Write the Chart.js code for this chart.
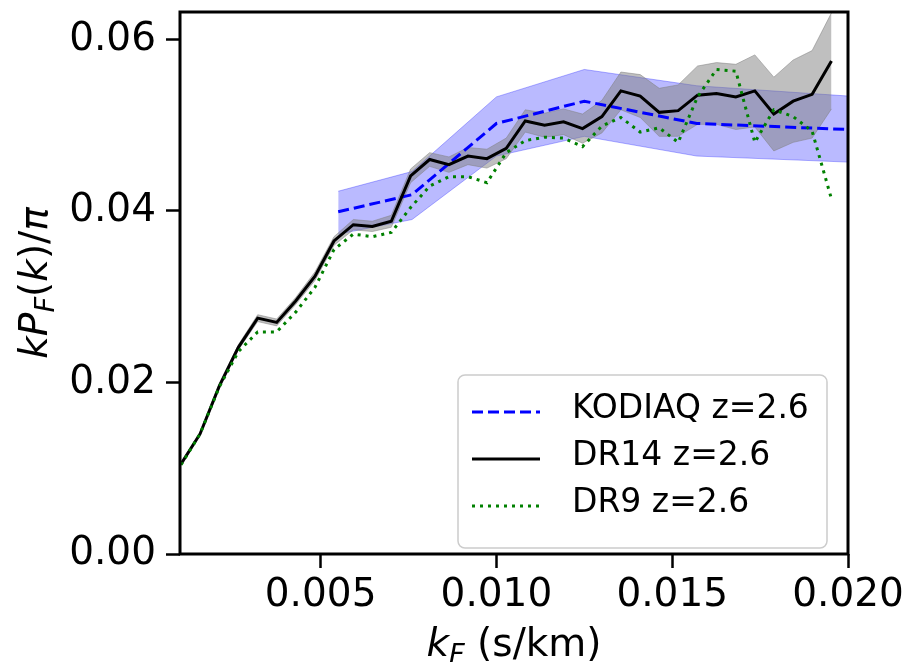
<!DOCTYPE html>
<html>
<head>
<meta charset="utf-8">
<script src="https://cdn.jsdelivr.net/npm/chart.js@4.4.1/dist/chart.umd.min.js"></script>
<style>
  html, body { margin: 0; padding: 0; background: #fff; }
  #wrap { width: 910px; height: 662px; }
</style>
</head>
<body>
<div id="wrap"><canvas id="chart" width="910" height="662"></canvas></div>
<script>
// Data (k in s/km, values are kP_F(k)/pi)
const kGrid = [0.00103, 0.00157, 0.00212, 0.00266, 0.00321, 0.00375, 0.00429, 0.00484, 0.00538, 0.00593,
               0.00647, 0.00701, 0.00756, 0.00810, 0.00865, 0.00919, 0.00973, 0.01028, 0.01082, 0.01137,
               0.01191, 0.01245, 0.01300, 0.01354, 0.01409, 0.01463, 0.01517, 0.01572, 0.01626, 0.01681,
               0.01735, 0.01789, 0.01844, 0.01898, 0.01953];

const dr14 = [0.0105, 0.0140, 0.0196, 0.0241, 0.0275, 0.0270, 0.0295, 0.0324, 0.0365, 0.0384,
              0.0382, 0.0388, 0.0441, 0.0460, 0.0454, 0.0464, 0.0461, 0.0473, 0.0505, 0.0500,
              0.0504, 0.0496, 0.0510, 0.0540, 0.0534, 0.0515, 0.0517, 0.0535, 0.0537, 0.0533,
              0.0540, 0.0513, 0.0528, 0.0536, 0.0575];

const dr14Err = [0.0002, 0.0002, 0.0003, 0.0003, 0.0004, 0.0004, 0.0004, 0.0005, 0.0005, 0.0006,
                 0.0006, 0.0007, 0.0008, 0.0008, 0.0009, 0.0010, 0.0011, 0.0012, 0.0013, 0.0014,
                 0.0015, 0.0017, 0.0019, 0.0022, 0.0025, 0.0028, 0.0030, 0.0034, 0.0036, 0.0038,
                 0.0042, 0.0043, 0.0048, 0.0051, 0.0056];

const dr9 = [0.0104, 0.0140, 0.0195, 0.0236, 0.0259, 0.0259, 0.0282, 0.0311, 0.0355, 0.0373,
             0.0370, 0.0375, 0.0404, 0.0429, 0.0440, 0.0440, 0.0433, 0.0468, 0.0482, 0.0486,
             0.0485, 0.0475, 0.0499, 0.0509, 0.0492, 0.0497, 0.0480, 0.0533, 0.0565, 0.0563,
             0.0480, 0.0518, 0.0510, 0.0493, 0.0414];

const kodiaqK  = [0.0055, 0.0076, 0.0100, 0.0125, 0.0157, 0.0200];
const kodiaq   = [0.0399, 0.0419, 0.0502, 0.0528, 0.0502, 0.0495];
const kodiaqLo = [0.0373, 0.0390, 0.0464, 0.0487, 0.0464, 0.0457];
const kodiaqHi = [0.0423, 0.0446, 0.0533, 0.0565, 0.0546, 0.0534];

const xTicks = [0.005, 0.010, 0.015, 0.020];
const xTickLabels = ["0.005", "0.010", "0.015", "0.020"];
const yTicks = [0.00, 0.02, 0.04, 0.06];
const yTickLabels = ["0.00", "0.02", "0.04", "0.06"];

const legendLabels = ["KODIAQ z=2.6", "DR14 z=2.6", "DR9 z=2.6"];

// Style
const FONT = "'DejaVu Sans', 'Liberation Sans', sans-serif";
const BLUE = "#0000ff";
const GREEN = "#008000";
const BLUE_DASH = [11, 5];
const GREEN_DOT = [3, 5];

const pts = (xs, ys) => xs.map((x, i) => ({x: x, y: ys[i]}));

// draws a run of text pieces (italic / subscript) centred on x
const drawRich = (ctx, pieces, cx, baseline, size) => {
    const fontOf = p => `${p.it ? "italic " : ""}${p.sub ? size * 0.7 : size}px ${FONT}`;
    let total = 0;
    pieces.forEach(p => { ctx.font = fontOf(p); total += ctx.measureText(p.t).width; });
    let x = cx - total / 2;
    ctx.textAlign = "left";
    ctx.textBaseline = "alphabetic";
    pieces.forEach(p => {
        ctx.font = fontOf(p);
        ctx.fillText(p.t, x, baseline + (p.sub ? size * 0.18 : 0));
        x += ctx.measureText(p.t).width;
    });
};

const decorPlugin = {
    id: "decor",
    afterDraw(chart) {
        const ctx = chart.ctx;
        const a = chart.chartArea;
        ctx.save();

        // frame
        ctx.strokeStyle = "#000";
        ctx.lineWidth = 3;
        ctx.strokeRect(a.left, a.top, a.right - a.left, a.bottom - a.top);

        ctx.fillStyle = "#000";
        // x title
        drawRich(ctx, [
            {t: "k", it: true}, {t: "F", it: true, sub: true}, {t: " (s/km)"}
        ], (a.left + a.right) / 2, a.bottom + 102, 39);

        // y title
        ctx.save();
        ctx.translate(47, (a.top + a.bottom) / 2);
        ctx.rotate(-Math.PI / 2);
        drawRich(ctx, [
            {t: "k", it: true}, {t: "P", it: true}, {t: "F", it: true, sub: true},
            {t: "("}, {t: "k", it: true}, {t: ")"}, {t: "/"}, {t: "π", it: true}
        ], 0, 0, 39);
        ctx.restore();

        // legend
        const bx = a.right - 21, by = a.bottom - 6;
        const bw = 369, bh = 173;
        const left = bx - bw, top = by - bh;
        ctx.beginPath();
        ctx.roundRect(left, top, bw, bh, 7);
        ctx.fillStyle = "rgba(255,255,255,0.8)";
        ctx.fill();
        ctx.strokeStyle = "#cccccc";
        ctx.lineWidth = 1.5;
        ctx.stroke();

        const handles = [
            {color: BLUE, dash: BLUE_DASH},
            {color: "#000", dash: []},
            {color: GREEN, dash: GREEN_DOT}
        ];
        ctx.font = `33px ${FONT}`;
        ctx.textAlign = "left";
        ctx.textBaseline = "alphabetic";
        handles.forEach((h, i) => {
            const ly = top + 37 + i * 47;
            ctx.beginPath();
            ctx.setLineDash(h.dash);
            ctx.strokeStyle = h.color;
            ctx.lineWidth = 3;
            ctx.moveTo(left + 14, ly);
            ctx.lineTo(left + 82, ly);
            ctx.stroke();
            ctx.setLineDash([]);
            ctx.fillStyle = "#000";
            ctx.fillText(legendLabels[i], left + 114, ly + 6);
        });

        ctx.restore();
    }
};

new Chart(document.querySelector("#chart"), {
    type: "line",
    data: {
        datasets: [
            {
                label: "KODIAQ low",
                data: pts(kodiaqK, kodiaqLo),
                borderColor: "rgba(0,0,255,0.3)",
                borderWidth: 1,
                pointRadius: 0,
                fill: false,
                order: 6
            },
            {
                label: "KODIAQ high",
                data: pts(kodiaqK, kodiaqHi),
                borderColor: "rgba(0,0,255,0.3)",
                borderWidth: 1,
                backgroundColor: "rgba(0,0,255,0.27)",
                pointRadius: 0,
                fill: "-1",
                order: 6
            },
            {
                label: "DR14 low",
                data: pts(kGrid, dr14.map((v, i) => v - dr14Err[i])),
                borderColor: "rgba(128,128,128,0.5)",
                borderWidth: 1,
                pointRadius: 0,
                fill: false,
                order: 5
            },
            {
                label: "DR14 high",
                data: pts(kGrid, dr14.map((v, i) => v + dr14Err[i])),
                borderColor: "rgba(128,128,128,0.5)",
                borderWidth: 1,
                backgroundColor: "rgba(128,128,128,0.5)",
                pointRadius: 0,
                fill: "-1",
                order: 5
            },
            {
                label: legendLabels[0],
                data: pts(kodiaqK, kodiaq),
                borderColor: BLUE,
                borderWidth: 3,
                borderDash: BLUE_DASH,
                pointRadius: 0,
                fill: false,
                order: 3
            },
            {
                label: legendLabels[1],
                data: pts(kGrid, dr14),
                borderColor: "#000",
                borderWidth: 3,
                pointRadius: 0,
                fill: false,
                order: 2
            },
            {
                label: legendLabels[2],
                data: pts(kGrid, dr9),
                borderColor: GREEN,
                borderWidth: 3,
                borderDash: GREEN_DOT,
                pointRadius: 0,
                fill: false,
                order: 1
            }
        ]
    },
    options: {
        responsive: false,
        animation: false,
        devicePixelRatio: 1,
        layout: {padding: {top: 12, right: 62, left: 0, bottom: 0}},
        plugins: {
            legend: {display: false},
            tooltip: {enabled: false}
        },
        scales: {
            x: {
                type: "linear",
                min: 0.001,
                max: 0.020,
                afterFit: s => { s.height = 108; s.paddingLeft = 0; s.paddingRight = 0; },
                afterBuildTicks: s => { s.ticks = xTicks.map(v => ({value: v})); },
                border: {display: false},
                grid: {drawOnChartArea: false, drawTicks: true, tickLength: 14, tickWidth: 2.5, tickColor: "#000"},
                ticks: {
                    color: "#000",
                    font: {family: FONT, size: 39},
                    padding: 4,
                    maxRotation: 0,
                    callback: (v) => xTickLabels[xTicks.indexOf(v)]
                }
            },
            y: {
                type: "linear",
                min: 0,
                max: 0.0632,
                afterFit: s => { s.width = 180; s.paddingTop = 0; s.paddingBottom = 0; },
                afterBuildTicks: s => { s.ticks = yTicks.map(v => ({value: v})); },
                border: {display: false},
                grid: {drawOnChartArea: false, drawTicks: true, tickLength: 14, tickWidth: 2.5, tickColor: "#000"},
                ticks: {
                    color: "#000",
                    font: {family: FONT, size: 39},
                    padding: 10,
                    callback: (v) => yTickLabels[yTicks.indexOf(v)]
                }
            }
        }
    },
    plugins: [decorPlugin]
});
</script>
</body>
</html>
